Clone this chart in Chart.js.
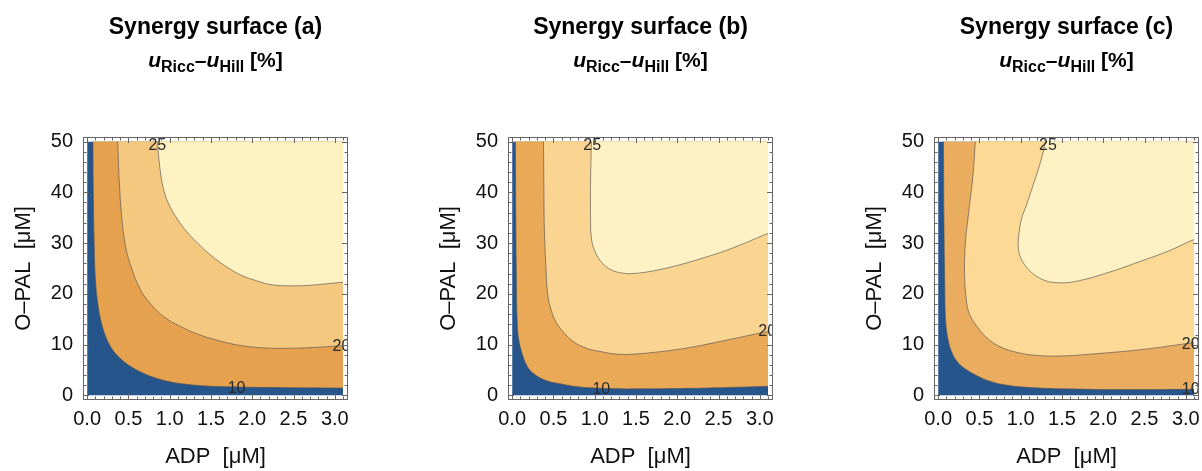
<!DOCTYPE html>
<html>
<head>
<meta charset="utf-8">
<script src="https://cdn.jsdelivr.net/npm/chart.js@4.4.1/dist/chart.umd.min.js"></script>
<style>
  html, body { margin: 0; padding: 0; background: #fff; width: 1202px; height: 471px; overflow: hidden; font-family: "Liberation Sans", Arial, sans-serif; }
  .panel { position: absolute; top: 0; width: 425px; height: 471px; }
  .panel canvas { position: absolute; left: 0; top: 0; }
  .t1, .t2 { position: absolute; left: 0; width: 431px; text-align: center; font-weight: bold; color: #000; white-space: nowrap; }
  .t1 { top: 15px; font-size: 23px; line-height: 23px; }
  .t2 { top: 49px; font-size: 21px; line-height: 21px; }
  .t2 i { font-style: italic; }
  .t2 .s { font-size: 16px; vertical-align: -5px; }
</style>
</head>
<body>
<div id="root"></div>
<script>
/* Synergy surfaces — u_Ricc - u_Hill contour maps */

const X_MAX = 3.1;   // ADP range of the computed surface
const Y_MAX = 50;    // O-PAL range of the computed surface
const X_TICKS = [0, 0.5, 1, 1.5, 2, 2.5, 3];
const Y_TICKS = [0, 10, 20, 30, 40, 50];
const PANELS = ["a", "b", "c"];
const LEVELS = [10, 20, 25];

// contour lines [ADP, O-PAL]
const A_C10 = [[0.07,50],[0.075,40],[0.085,30],[0.1,23],[0.13,18],[0.17,14.5],[0.22,11.8],[0.3,9.2],[0.4,7.3],[0.5,6],[0.65,4.6],[0.8,3.6],[1.0,2.7],[1.2,2.2],[1.5,1.8],[2.0,1.6],[2.6,1.5],[3.1,1.45]];
const A_C20 = [[0.37,50],[0.39,42],[0.42,35],[0.47,29],[0.54,25],[0.64,21],[0.76,18.2],[0.93,15.5],[1.13,13.6],[1.35,12],[1.57,10.9],[1.8,10],[2.1,9.4],[2.5,9.3],[2.8,9.5],[3.1,9.8]];
const A_C25 = [[0.85,50],[0.88,45],[0.92,41],[0.98,38],[1.09,34.8],[1.22,32],[1.37,29.5],[1.5,27.6],[1.61,26.2],[1.75,24.7],[1.89,23.5],[2.05,22.6],[2.2,21.9],[2.4,21.6],[2.7,21.7],[3.1,22.3]];

const B_C10 = [[0.04,50],[0.045,35],[0.05,25],[0.06,15],[0.08,11],[0.12,8.3],[0.18,5.8],[0.26,4.3],[0.4,3],[0.58,2.3],[0.8,1.7],[1.15,1.35],[1.6,1.3],[2.2,1.4],[2.7,1.6],[3.1,1.8]];
const B_C20 = [[0.38,50],[0.385,40],[0.39,33],[0.41,25],[0.43,20],[0.47,17],[0.53,14.5],[0.62,12.5],[0.75,10.5],[0.9,9.3],[1.05,8.7],[1.3,8.1],[1.6,8.3],[2.1,9.3],[2.6,10.9],[3.1,12.6]];
const B_C25 = [[0.96,50],[0.95,42],[0.95,35],[0.96,31],[1.0,28.5],[1.07,26.5],[1.17,25],[1.3,24.2],[1.45,24],[1.7,24.5],[2.0,25.6],[2.3,27],[2.6,28.6],[2.85,30.2],[3.1,31.9]];

const C_C10 = [[0.065,50],[0.07,35],[0.08,22],[0.09,15],[0.12,11],[0.17,8.3],[0.25,6.3],[0.35,5],[0.47,3.9],[0.59,3],[0.8,2.1],[1.07,1.6],[1.5,1.3],[2.2,1.15],[3.1,1.2]];
const C_C20 = [[0.45,50],[0.42,43],[0.37,36],[0.33,30],[0.32,24],[0.34,19],[0.38,16],[0.47,13.6],[0.6,11.2],[0.75,9.6],[0.95,8.5],[1.15,7.95],[1.45,7.75],[1.9,8.2],[2.5,9.1],[3.1,10.4]];
const C_C25 = [[1.3,50],[1.24,46],[1.15,41.4],[1.07,37.5],[1.01,34.8],[0.98,32],[0.97,29.5],[0.99,27.5],[1.03,26.2],[1.1,24.7],[1.19,23.5],[1.3,22.6],[1.44,22.2],[1.65,22.4],[2.04,24.1],[2.5,26.7],[2.8,28.5],[3.1,30.7]];

// contour label anchors [level, ADP, O-PAL]
const A_LABELS = [[10,1.81,1.3],[20,3.08,9.6],[25,0.85,49.3]];
const B_LABELS = [[10,1.08,1.1],[20,3.09,12.6],[25,0.97,49.3]];
const C_LABELS = [[10,3.06,1.1],[20,3.06,10.1],[25,1.33,49.3]];

const CONTOURS = { a: [A_C10, A_C20, A_C25], b: [B_C10, B_C20, B_C25], c: [C_C10, C_C20, C_C25] };
const LABELS = { a: A_LABELS, b: B_LABELS, c: C_LABELS };

// band fills: below 10, 10-20, 20-25, above 25
const BANDS = {
  a: ["#26558b", "#e5a14d", "#f5c880", "#fef1c2"],
  b: ["#26558b", "#e9a957", "#fad491", "#fef1c3"],
  c: ["#26558b", "#eaac5e", "#fcd995", "#fef1c3"],
};

const FONT = '"Liberation Sans", Arial, sans-serif';
const LINE_COLOR = "rgba(85,85,85,0.65)";
const FRAME_COLOR = "#666";

// each contour is closed round the top-right corner so that it fills the band above it
function contourDataset(pts, color) {
  const first = pts[0], last = pts[pts.length - 1];
  const data = [{ x: first[0], y: Y_MAX + 0.8 }]
    .concat(pts.map(p => ({ x: p[0], y: p[1] })))
    .concat([{ x: X_MAX + 0.05, y: last[1] }, { x: X_MAX + 0.05, y: Y_MAX + 0.8 }]);
  return { data, fill: "shape", backgroundColor: color, borderColor: LINE_COLOR, borderWidth: 1, tension: 0.4, pointRadius: 0 };
}

const framePlugin = {
  id: "frame",
  beforeDatasetsDraw(chart) {
    const { ctx, scales: { x, y } } = chart;
    const l = x.getPixelForValue(0), r = x.getPixelForValue(X_MAX);
    const t = y.getPixelForValue(Y_MAX), b = y.getPixelForValue(0);
    ctx.save();
    ctx.beginPath();
    ctx.rect(l, t, r - l, b - t);
    ctx.clip();
  },
  afterDatasetsDraw(chart, args, opts) {
    const { ctx, chartArea: a, scales: { x, y } } = chart;
    ctx.restore();

    // contour labels, cut by the frame
    ctx.save();
    ctx.beginPath();
    ctx.rect(a.left, a.top, a.width, a.height);
    ctx.clip();
    ctx.font = "16px " + FONT;
    ctx.fillStyle = "#2a2a2a";
    ctx.textAlign = "center";
    ctx.textBaseline = "middle";
    opts.labels.forEach(([v, lx, ly]) => ctx.fillText(String(v), x.getPixelForValue(lx), y.getPixelForValue(ly)));
    ctx.restore();

    // inward ticks on all four sides
    ctx.save();
    ctx.strokeStyle = FRAME_COLOR;
    ctx.lineWidth = 1;
    ctx.beginPath();
    for (let k = 0; k <= 31; k++) {
      const px = Math.round(x.getPixelForValue(k / 10)) + 0.5;
      const len = k % 5 === 0 ? 6 : 3.5;
      ctx.moveTo(px, a.bottom); ctx.lineTo(px, a.bottom - len);
      ctx.moveTo(px, a.top); ctx.lineTo(px, a.top + len);
    }
    for (let k = 0; k <= 25; k++) {
      const py = Math.round(y.getPixelForValue(k * 2)) + 0.5;
      const len = k % 5 === 0 ? 6 : 3.5;
      ctx.moveTo(a.left, py); ctx.lineTo(a.left + len, py);
      ctx.moveTo(a.right, py); ctx.lineTo(a.right - len, py);
    }
    ctx.stroke();
    ctx.strokeRect(Math.round(a.left) + 0.5, Math.round(a.top) + 0.5, Math.round(a.width) - 1, Math.round(a.height) - 1);
    ctx.restore();
  },
};

function renderPanel(key, i) {
  const panel = document.createElement("div");
  panel.className = "panel";
  panel.style.left = [0, 425, 851][i] + "px";
  panel.innerHTML = `
    <canvas width="425" height="471"></canvas>
    <div class="t1">Synergy surface (${key})</div>
    <div class="t2"><i>u</i><span class="s">Ricc</span>–<i>u</i><span class="s">Hill</span> [%]</div>
  `;
  document.getElementById("root").appendChild(panel);

  const bands = BANDS[key];
  const [c10, c20, c25] = CONTOURS[key];
  const datasets = [
    contourDataset(c25, bands[3]),
    contourDataset(c20, bands[2]),
    contourDataset(c10, bands[1]),
    { data: [{ x: 0, y: 0 }, { x: X_MAX, y: 0 }, { x: X_MAX, y: Y_MAX }, { x: 0, y: Y_MAX }], fill: "shape", backgroundColor: bands[0], borderWidth: 0, pointRadius: 0, tension: 0 },
  ];

  const tickFont = { family: FONT, size: 20 };
  const titleFont = { family: FONT, size: 22 };

  new Chart(panel.querySelector("canvas"), {
    type: "line",
    data: { datasets },
    options: {
      responsive: false,
      animation: false,
      events: [],
      layout: { padding: { left: 0, right: 77, top: 137, bottom: 0 } },
      plugins: { legend: { display: false }, tooltip: { enabled: false }, frame: { labels: LABELS[key] } },
      scales: {
        x: {
          type: "linear", min: -0.05, max: 3.16,
          afterBuildTicks: s => { s.ticks = X_TICKS.map(v => ({ value: v })); },
          afterFit: s => { s.height = 71; },
          grid: { display: false, drawTicks: false }, border: { display: false },
          ticks: { color: "#111", font: tickFont, padding: 7, maxRotation: 0, callback: v => Number(v).toFixed(1) },
          title: { display: true, text: "ADP  [μM]", color: "#111", font: titleFont, padding: { bottom: 1 } },
        },
        y: {
          type: "linear", min: -0.9, max: 50.9,
          afterBuildTicks: s => { s.ticks = Y_TICKS.map(v => ({ value: v })); },
          afterFit: s => { s.width = 83; },
          grid: { display: false, drawTicks: false }, border: { display: false },
          ticks: { color: "#111", font: tickFont, padding: 10, callback: v => String(v) },
          title: { display: true, text: "O–PAL  [μM]", color: "#111", font: titleFont, padding: { top: 11 } },
        },
      },
    },
    plugins: [framePlugin],
  });
}

PANELS.forEach(renderPanel);
</script>
</body>
</html>
